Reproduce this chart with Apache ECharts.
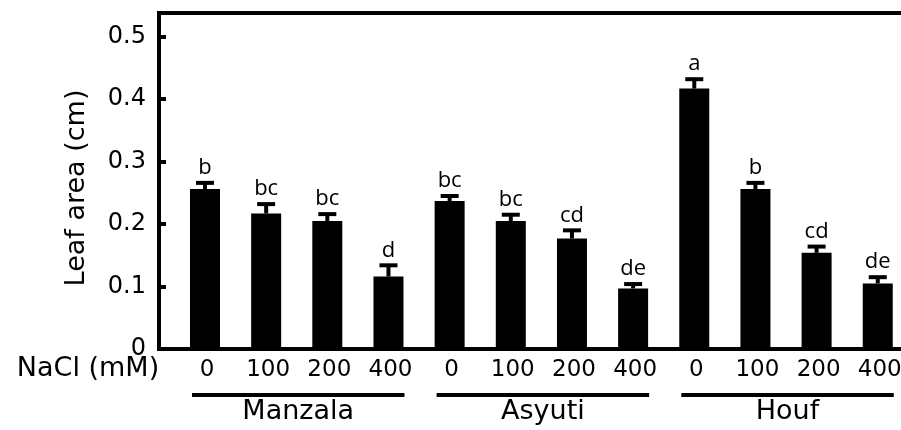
<!DOCTYPE html>
<html>
<head>
<meta charset="utf-8">
<script src="https://cdn.jsdelivr.net/npm/echarts@6/dist/echarts.min.js"></script>
<style>
html,body{margin:0;padding:0;background:#fff;}
#chart{width:901px;height:430px;}
</style>
</head>
<body>
<div id="chart"></div>
<script>
// ---- data ----
const doses = ['0', '100', '200', '400'];
const cultivars = ['Manzala', 'Asyuti', 'Houf'];
const leafArea = [0.256, 0.217, 0.205, 0.116, 0.237, 0.205, 0.177, 0.097, 0.417, 0.256, 0.154, 0.105];
const stdError = [0.010, 0.015, 0.011, 0.018, 0.008, 0.010, 0.013, 0.007, 0.015, 0.010, 0.010, 0.010];
const letters = ['b', 'bc', 'bc', 'd', 'bc', 'bc', 'cd', 'de', 'a', 'b', 'cd', 'de'];
const yTickLabels = ['0', '0.1', '0.2', '0.3', '0.4', '0.5'];
const xLabel = 'NaCl (mM)';
const yLabel = 'Leaf area (cm)';

// ---- build ----
const FONT = '"DejaVu Sans", sans-serif';
const nDose = doses.length;
const barData = leafArea.map((v, i) => [i, v]);
const errData = leafArea.map((v, i) => [i, v, stdError[i]]);
const doseData = leafArea.map((v, i) => [i, 0]);
const groupData = cultivars.map((c, g) => [g * nDose, 0, g * nDose + nDose - 1]);

const X_MIN = -0.752, X_MAX = 11.38;

const chart = echarts.init(document.getElementById('chart'), null, {renderer: 'canvas'});
chart.setOption({
  animation: false,
  backgroundColor: '#fff',
  grid: {left: 159, right: 0, top: 13, bottom: 81, containLabel: false},
  xAxis: [{
    type: 'value', min: X_MIN, max: X_MAX, position: 'bottom',
    axisLine: {show: true, onZero: false, lineStyle: {color: '#000', width: 4, cap: 'square'}},
    axisTick: {show: false}, axisLabel: {show: false}, splitLine: {show: false}
  }, {
    type: 'value', min: X_MIN, max: X_MAX, position: 'top',
    axisLine: {show: true, onZero: false, lineStyle: {color: '#000', width: 4, cap: 'square'}},
    axisTick: {show: false}, axisLabel: {show: false}, splitLine: {show: false}
  }],
  yAxis: {
    type: 'value', min: 0, max: 0.538, interval: 0.1, position: 'left',
    axisLine: {show: true, onZero: false, lineStyle: {color: '#000', width: 4, cap: 'square'}},
    axisTick: {show: true, inside: true, length: 7, lineStyle: {color: '#000', width: 4}},
    axisLabel: {
      margin: 13, fontFamily: FONT, fontSize: 24, color: '#000',
      formatter: function (v) {
        const k = Math.round(v * 10);
        if (Math.abs(v * 10 - k) > 1e-6) return '';
        return yTickLabels[k] !== undefined ? yTickLabels[k] : '';
      }
    },
    splitLine: {show: false}
  },
  series: [{
    type: 'bar', data: barData, barWidth: 30,
    itemStyle: {color: '#000'}, silent: true
  }, {
    type: 'custom', data: errData, clip: false, silent: true, z: 3,
    renderItem: function (params, api) {
      const i = api.value(0), m = api.value(1), e = api.value(2);
      const pTop = api.coord([i, m + e]);
      const pBar = api.coord([i, m]);
      const cx = pTop[0];
      return {
        type: 'group', children: [
          {type: 'line', shape: {x1: cx, y1: pBar[1], x2: cx, y2: pTop[1]}, style: {stroke: '#000', lineWidth: 4}},
          {type: 'line', shape: {x1: cx - 9, y1: pTop[1], x2: cx + 9, y2: pTop[1]}, style: {stroke: '#000', lineWidth: 4}},
          {type: 'text', x: cx, y: pTop[1] - 4, style: {text: letters[i], align: 'center', verticalAlign: 'bottom', font: '22px "Open Sans", sans-serif', fill: '#000'}}
        ]
      };
    }
  }, {
    type: 'custom', data: doseData, clip: false, silent: true,
    renderItem: function (params, api) {
      const i = api.value(0);
      const p = api.coord([i, 0]);
      return {type: 'text', x: p[0] + 2, y: p[1] + 21, style: {text: doses[i % nDose], align: 'center', verticalAlign: 'middle', font: '23px ' + FONT, fill: '#000'}};
    }
  }, {
    type: 'custom', data: groupData, clip: false, silent: true,
    renderItem: function (params, api) {
      const a = api.coord([api.value(0), 0]);
      const b = api.coord([api.value(2), 0]);
      const x1 = a[0] - 13, x2 = b[0] + 16;
      const g = Math.round(api.value(0) / nDose);
      return {
        type: 'group', children: [
          {type: 'line', shape: {x1: x1, y1: a[1] + 46, x2: x2, y2: a[1] + 46}, style: {stroke: '#000', lineWidth: 4}},
          {type: 'text', x: (x1 + x2) / 2, y: a[1] + 63, style: {text: cultivars[g], align: 'center', verticalAlign: 'middle', font: '27px ' + FONT, fill: '#000'}}
        ]
      };
    }
  }],
  graphic: [{
    type: 'text', x: 88, y: 369,
    style: {text: xLabel, align: 'center', verticalAlign: 'middle', font: '27px ' + FONT, fill: '#000'}
  }, {
    type: 'text', x: 77, y: 188, rotation: Math.PI / 2,
    style: {text: yLabel, align: 'center', verticalAlign: 'middle', font: '27px ' + FONT, fill: '#000'}
  }]
});
</script>
</body>
</html>
